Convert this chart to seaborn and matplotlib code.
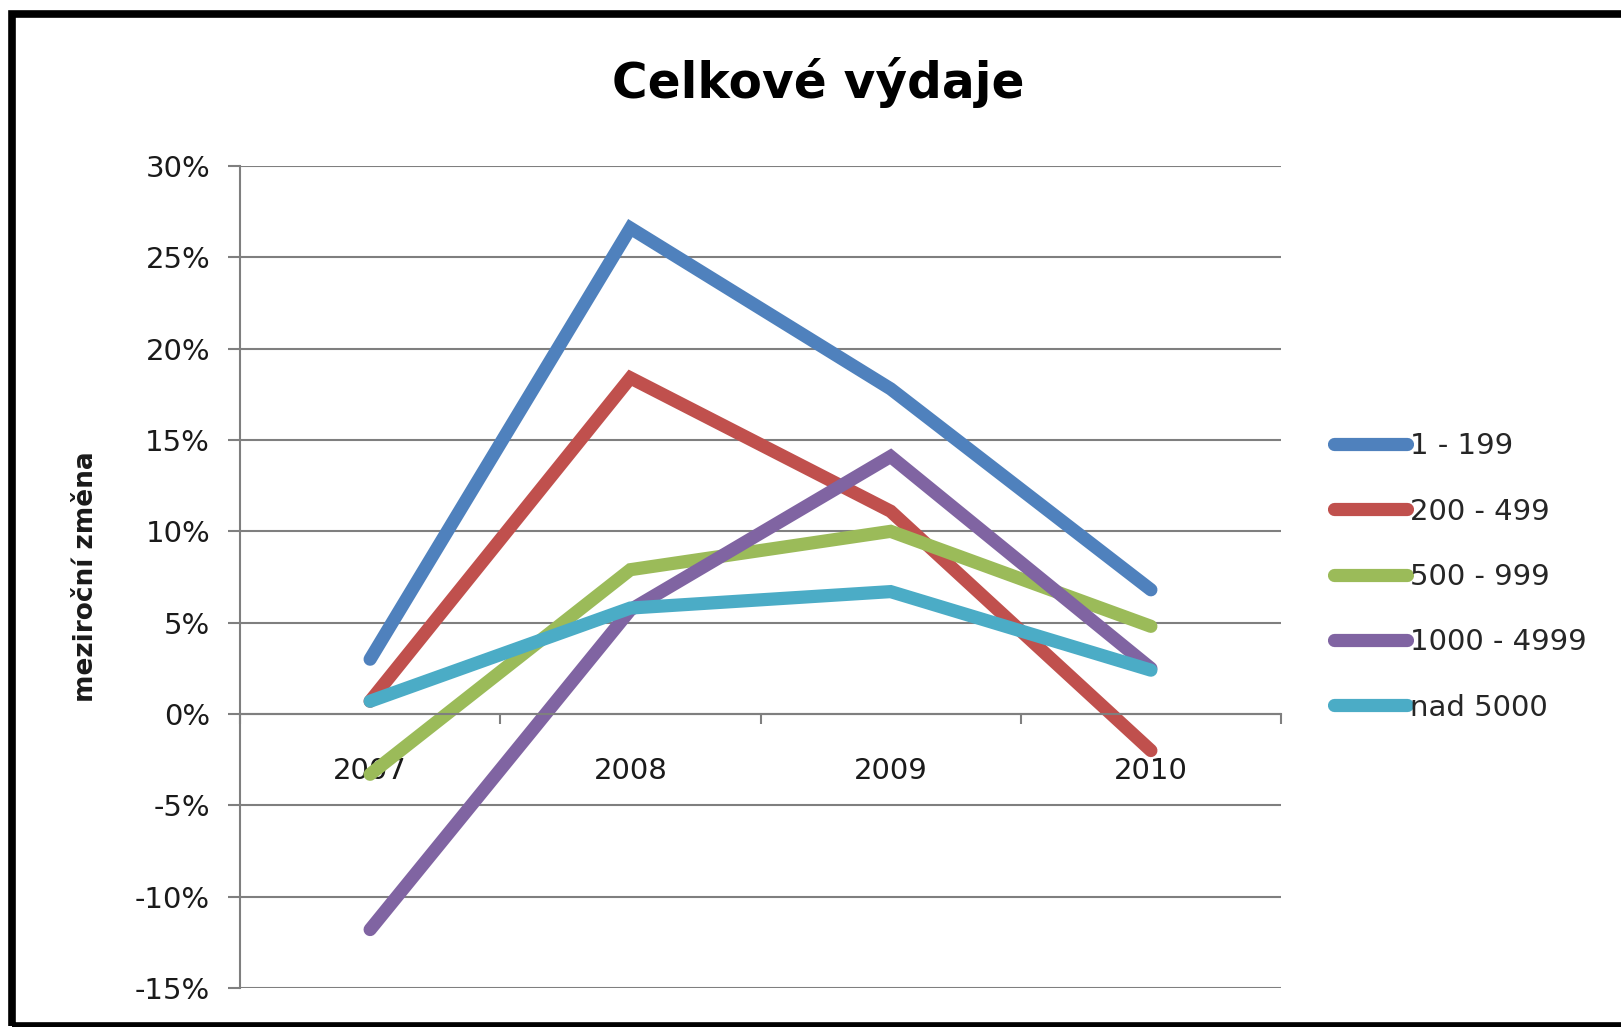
import seaborn as sns
import matplotlib.pyplot as plt
import pandas as pd
from matplotlib.patches import Rectangle
from matplotlib.ticker import PercentFormatter, FixedLocator

# data (year-on-year change, %)
years = [2007, 2008, 2009, 2010]
groups = ['1 - 199', '200 - 499', '500 - 999', '1000 - 4999', 'nad 5000']
s_1_199 = [3.0, 26.6, 17.8, 6.8]
s_200_499 = [0.7, 18.4, 11.1, -2.0]
s_500_999 = [-3.3, 7.9, 10.0, 4.8]
s_1000_4999 = [-11.8, 5.7, 14.1, 2.5]
s_nad_5000 = [0.7, 5.8, 6.7, 2.4]
colors = ['#4F81BD', '#C0504D', '#9BBB59', '#8064A2', '#4BACC6']

values = [s_1_199, s_200_499, s_500_999, s_1000_4999, s_nad_5000]
rows = []
for g, vals in zip(groups, values):
    for y, v in zip(years, vals):
        rows.append({'rok': y, 'zmena': v, 'skupina': g})
df = pd.DataFrame(rows)

sns.set_theme(style='white')
plt.rcParams['font.family'] = ['DejaVu Sans']
plt.rcParams['axes.unicode_minus'] = False

fig = plt.figure(figsize=(16.21, 10.27), dpi=100)
ax = fig.add_axes([240/1621, 1-988/1027, 1041/1621, 822/1027])

sns.lineplot(data=df, x='rok', y='zmena', hue='skupina', hue_order=groups,
             palette=dict(zip(groups, colors)), linewidth=9.5,
             solid_capstyle='round', solid_joinstyle='miter', ax=ax)

ax.set_ylim(-15, 30)
ax.set_xlim(2006.5, 2010.5)
ax.set_yticks(range(-15, 31, 5))
ax.yaxis.set_major_formatter(PercentFormatter(decimals=0))
ax.grid(axis='y', color='#7f7f7f', linewidth=1.5)
ax.set_axisbelow(True)

# category axis crossing at 0 like in Excel
ax.spines['bottom'].set_position(('data', 0))
for side in ['top', 'right']:
    ax.spines[side].set_visible(False)
for side in ['left', 'bottom']:
    ax.spines[side].set_color('#7f7f7f')
    ax.spines[side].set_linewidth(1.5)

ax.xaxis.set_major_locator(FixedLocator([2006.5, 2007.5, 2008.5, 2009.5, 2010.5]))
ax.xaxis.set_minor_locator(FixedLocator(years))
ax.tick_params(axis='x', which='major', bottom=True, direction='out', length=7,
               color='#7f7f7f', width=1.5, labelbottom=False)
ax.tick_params(axis='x', which='minor', bottom=True, length=0, pad=31,
               labelsize=21, labelcolor='#1a1a1a')
ax.set_xticklabels([str(y) for y in years], minor=True)
ax.tick_params(axis='y', left=True, direction='out', length=8.5, color='#7f7f7f',
               width=1.5, pad=13, labelsize=21, labelcolor='#1a1a1a')

ax.set_xlabel('')
ax.set_ylabel('meziroční změna', fontsize=19, fontweight='bold', color='#1a1a1a')
ax.yaxis.set_label_coords(-0.135, 0.5)

handles, labels = ax.get_legend_handles_labels()
ax.legend(handles, labels, loc='center left', bbox_to_anchor=(1334/1621, 1-577/1027),
          bbox_transform=fig.transFigure, frameon=False, fontsize=21,
          handlelength=2.5, handletextpad=0.1, labelspacing=1.28,
          borderpad=0, borderaxespad=0)

fig.text(818/1621, 1-82/1027, 'Celkové výdaje', ha='center', va='center',
         fontsize=35, fontweight='bold', color='black')

# black frame around the chart area
fig.patches.append(Rectangle((12/1621, 1/1027), 1.05, 1-14.5/1027, fill=False,
                             edgecolor='black', linewidth=5.5,
                             transform=fig.transFigure, figure=fig))

fig.savefig('out.png', dpi=100, facecolor='white')
